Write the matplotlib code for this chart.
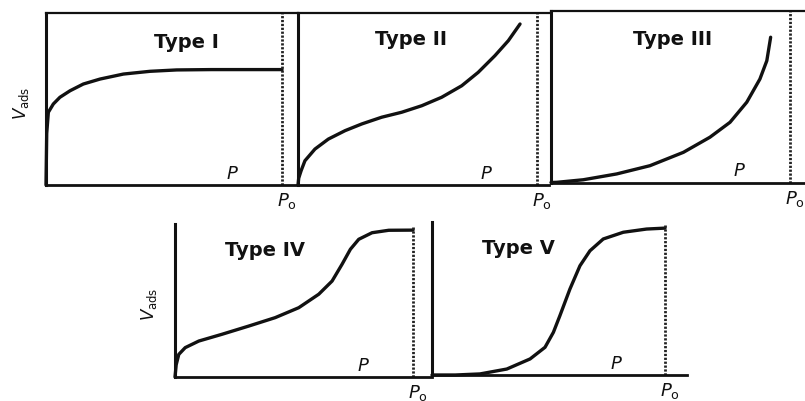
import matplotlib
matplotlib.use('Agg')
from matplotlib import pyplot as plt

plt.rcParams['mathtext.fontset'] = 'dejavusans'

# relative pressure P/P0 and adsorbed volume (fraction of panel height)
type1_x = [0.0, 0.003, 0.010, 0.031, 0.059, 0.102, 0.158, 0.229, 0.328, 0.441,
           0.554, 0.70, 1.0]
type1_y = [0.0, 0.30, 0.423, 0.471, 0.510, 0.548, 0.587, 0.616, 0.645, 0.661,
           0.669, 0.671, 0.671]

type2_x = [0.0, 0.003, 0.013, 0.029, 0.071, 0.127, 0.197, 0.267, 0.350, 0.434,
           0.518, 0.601, 0.685, 0.754, 0.824, 0.880, 0.929]
type2_y = [0.0, 0.04, 0.083, 0.141, 0.209, 0.267, 0.316, 0.355, 0.394, 0.423,
           0.461, 0.510, 0.577, 0.655, 0.752, 0.839, 0.936]

type3_x = [0.0, 0.024, 0.135, 0.275, 0.414, 0.554, 0.665, 0.749, 0.819, 0.874,
           0.903, 0.919]
type3_y = [0.0, 0.001, 0.016, 0.050, 0.098, 0.176, 0.264, 0.351, 0.468, 0.603,
           0.710, 0.847]

type4_x = [0.0, 0.005, 0.016, 0.043, 0.100, 0.197, 0.310, 0.421, 0.520, 0.604,
           0.660, 0.702, 0.737, 0.772, 0.828, 0.898, 1.0]
type4_y = [0.0, 0.08, 0.148, 0.192, 0.235, 0.279, 0.333, 0.388, 0.453, 0.541,
           0.627, 0.737, 0.835, 0.900, 0.943, 0.959, 0.960]

type5_x = [0.0, 0.10, 0.206, 0.321, 0.421, 0.485, 0.521, 0.549, 0.592, 0.635,
           0.678, 0.735, 0.821, 0.921, 1.0]
type5_y = [0.0, 0.0, 0.007, 0.039, 0.105, 0.181, 0.279, 0.388, 0.562, 0.714,
           0.812, 0.889, 0.933, 0.954, 0.960]

titles = ['Type I', 'Type II', 'Type III', 'Type IV', 'Type V']
curves = [(type1_x, type1_y), (type2_x, type2_y), (type3_x, type3_y),
          (type4_x, type4_y), (type5_x, type5_y)]

W, H = 805, 402
# panel boxes in pixels: left, right (next axis), P0 line, top, bottom
boxes = [(46, 298, 282, 14, 186),
         (298, 549, 537, 14, 186),
         (551, 805, 790, 12, 183.5),
         (175, 432, 413, 225, 378),
         (432, 687, 665, 223, 376)]
title_pos = [(0.557, 0.833), (0.45, 0.85), (0.48, 0.837), (0.35, 0.835), (0.338, 0.835)]
dotted_top = [1.0, 1.0, 1.0, 0.99, 0.99]
ink = '#111111'

fig = plt.figure(figsize=(W / 100, H / 100), dpi=100)
fig.patch.set_facecolor('white')

for i, (left, right, p0, top, bottom) in enumerate(boxes):
    ax = fig.add_axes([left / W, 1 - bottom / H, (right - left) / W, (bottom - top) / H])
    ax.set_xlim(0, (right - left) / (p0 - left))
    ax.set_ylim(0, 1)
    ax.set_xticks([])
    ax.set_yticks([])
    ax.patch.set_alpha(0)
    for side in ['left', 'bottom', 'top', 'right']:
        ax.spines[side].set_color(ink)
    ax.spines['left'].set_linewidth(2.2)
    ax.spines['bottom'].set_linewidth(2.0)
    ax.spines['top'].set_linewidth(1.6)
    ax.spines['right'].set_visible(False)
    if i >= 3:
        ax.spines['top'].set_visible(False)

    x, y = curves[i]
    ax.plot(x, y, color=ink, lw=2.4, solid_capstyle='round',
            solid_joinstyle='round', clip_on=False)
    ax.plot([1, 1], [0, dotted_top[i]], color='#222222', lw=2.0,
            linestyle=(0, (0.8, 0.6)), clip_on=False)

    tx, ty = title_pos[i]
    ax.text(tx, ty, titles[i], transform=ax.transAxes, ha='center', va='center',
            fontsize=14, fontweight='bold', color=ink)
    ax.text(0.79, 0.02, r'$\mathit{P}$', ha='center', va='bottom',
            fontsize=13, color=ink)
    ax.text(1.02, -0.03, r'$\mathit{P}_\mathrm{o}$', ha='center', va='top',
            fontsize=13, color=ink, clip_on=False)
    if i in (0, 3):
        ax.text(-0.1, 0.48, r'$V_\mathrm{ads}$', transform=ax.transAxes,
                rotation=90, ha='center', va='center', fontsize=12,
                color=ink)

fig.savefig('out.png', dpi=100, facecolor='white')
